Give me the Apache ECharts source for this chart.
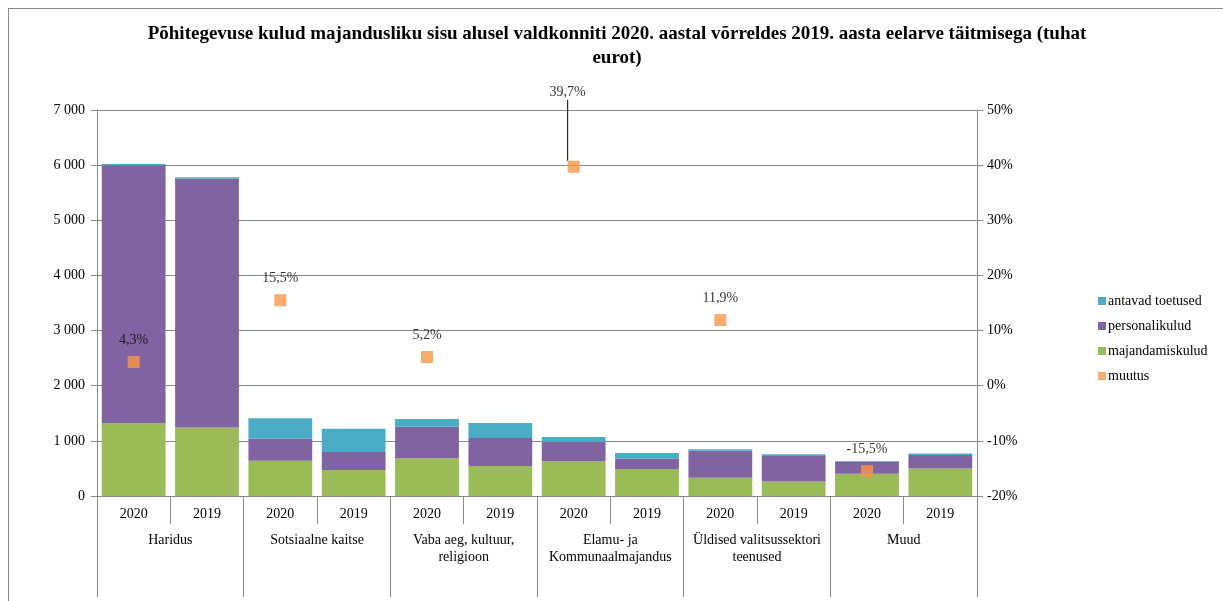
<!DOCTYPE html>
<html>
<head>
<meta charset="utf-8">
<script src="https://cdn.jsdelivr.net/npm/echarts@6/dist/echarts.min.js"></script>
<style>
  html, body { margin: 0; padding: 0; background: #fff; overflow: hidden; }
  #wrap { position: relative; width: 1223px; height: 601px; }
  #chart { width: 1223px; height: 601px; }
  #frame { position: absolute; left: 8px; top: 8px; width: 1400px; height: 800px; border: 1px solid #888; pointer-events: none; }
</style>
</head>
<body>
<div id="wrap">
  <div id="chart"></div>
  <div id="frame"></div>
</div>
<script>
const years = ['2020', '2019', '2020', '2019', '2020', '2019', '2020', '2019', '2020', '2019', '2020', '2019'];
const groups = ['Haridus', 'Sotsiaalne kaitse', 'Vaba aeg, kultuur,\nreligioon', 'Elamu- ja\nKommunaalmajandus', 'Üldised valitsussektori\nteenused', 'Muud'];

const majandamiskulud = [1320, 1240, 640, 470, 685, 545, 630, 490, 330, 265, 405, 500];
const personalikulud = [4680, 4520, 405, 330, 570, 505, 355, 185, 490, 460, 220, 245];
const antavadToetused = [20, 20, 365, 420, 140, 275, 85, 105, 30, 30, 10, 25];
const muutus = [4.3, null, 15.5, null, 5.2, null, 39.7, null, 11.9, null, -15.5, null];

const font = '"Liberation Serif", "DejaVu Serif", serif';
const gridColor = '#888888';

// the 39,7% label sits higher with a leader line
const muutusData = muutus.map((v, i) => {
    if (i === 6) {
        return { value: v, labelLine: { show: true } };
    }
    return v;
});

const chart = echarts.init(document.getElementById('chart'));

chart.setOption({
    textStyle: { fontFamily: font },
    title: {
        text: 'Põhitegevuse kulud majandusliku sisu alusel valdkonniti 2020. aastal võrreldes 2019. aasta eelarve täitmisega (tuhat\neurot)',
        left: 612,
        textAlign: 'center',
        top: 17,
        textStyle: { fontFamily: font, fontSize: 19, fontWeight: 'bold', color: '#000', lineHeight: 24 }
    },
    legend: {
        orient: 'vertical',
        left: 1093,
        top: 289,
        itemGap: 11,
        itemWidth: 8,
        itemHeight: 8,
        icon: 'rect',
        textStyle: { fontFamily: font, fontSize: 14, color: '#000', padding: [0, 0, 0, -3] },
        data: ['antavad toetused', 'personalikulud', 'majandamiskulud', 'muutus']
    },
    grid: { left: 97, right: 246, top: 110, bottom: 105 },
    xAxis: [
        {
            type: 'category',
            data: years,
            position: 'bottom',
            axisLine: { onZero: false, lineStyle: { color: gridColor } },
            axisTick: { show: true, length: 28, lineStyle: { color: gridColor } },
            axisLabel: { color: '#000', fontSize: 14, margin: 11, fontFamily: font }
        },
        {
            type: 'category',
            data: groups,
            position: 'bottom',
            axisLine: { show: false, onZero: false },
            axisTick: { show: true, length: 101, interval: 0, lineStyle: { color: gridColor } },
            axisLabel: { interval: 0, color: '#000', fontSize: 14, margin: 36, lineHeight: 17, fontFamily: font, verticalAlign: 'top' }
        }
    ],
    yAxis: [
        {
            type: 'value',
            min: 0,
            max: 7000,
            interval: 1000,
            axisLine: { show: true, lineStyle: { color: gridColor } },
            axisTick: { show: true, length: 6, lineStyle: { color: gridColor } },
            splitLine: { lineStyle: { color: gridColor } },
            axisLabel: {
                color: '#000', fontSize: 14, margin: 12, fontFamily: font,
                formatter: v => String(v).replace(/\B(?=(\d{3})+(?!\d))/g, ' ')
            }
        },
        {
            type: 'value',
            min: -20,
            max: 50,
            interval: 10,
            position: 'right',
            axisLine: { show: true, lineStyle: { color: gridColor } },
            axisTick: { show: true, length: 6, lineStyle: { color: gridColor } },
            splitLine: { show: false },
            axisLabel: { color: '#000', fontSize: 14, margin: 10, fontFamily: font, formatter: '{value}%' }
        }
    ],
    series: [
        {
            name: 'majandamiskulud',
            type: 'bar',
            stack: 'kulud',
            data: majandamiskulud,
            barCategoryGap: '13%',
            itemStyle: { color: '#9BBB59' }
        },
        {
            name: 'personalikulud',
            type: 'bar',
            stack: 'kulud',
            data: personalikulud,
            itemStyle: { color: '#8064A2' }
        },
        {
            name: 'antavad toetused',
            type: 'bar',
            stack: 'kulud',
            data: antavadToetused,
            itemStyle: { color: '#4BACC6' }
        },
        {
            name: 'muutus',
            type: 'scatter',
            yAxisIndex: 1,
            data: muutusData,
            symbol: 'rect',
            symbolSize: 12,
            itemStyle: { color: '#F79646' },
            label: {
                show: true,
                position: 'top',
                distance: 9,
                color: '#000',
                fontSize: 14,
                fontFamily: font,
                formatter: p => String(p.value).replace('.', ',') + '%'
            },
            labelLayout: p => p.dataIndex === 6 ? { dx: -6, dy: -52 } : {},
            labelLine: { show: false, lineStyle: { color: '#000', width: 1 } }
        }
    ]
});
</script>
</body>
</html>
